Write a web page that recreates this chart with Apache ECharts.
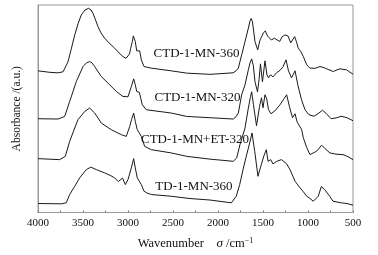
<!DOCTYPE html>
<html><head><meta charset="utf-8">
<script src="https://cdn.jsdelivr.net/npm/echarts@6/dist/echarts.min.js"></script>
<style>html,body{margin:0;padding:0;background:#fff}#c{width:378px;height:255px}</style>
</head><body><div id="c"></div>
<script>
const seriesNames = ['CTD-1-MN-360','CTD-1-MN-320','CTD-1-MN+ET-320','TD-1-MN-360'];
const ctd360 = [[4000,142],[3867,140.5],[3778,140],[3722,141],[3667,151],[3633,163],[3592,178],[3556,189],[3519,198],[3478,203],[3437,204.7],[3411,203],[3389,199.7],[3361,193],[3333,186.3],[3300,180],[3259,174.7],[3211,170],[3148,164.7],[3100,160],[3056,156.3],[3022,154.5],[3000,154],[2983,159],[2970,164.7],[2952,171.3],[2941,177],[2933,179],[2926,177],[2919,171.3],[2903,162],[2889,160],[2870,162],[2852,153],[2822,146.3],[2741,144.7],[2519,142],[2348,139.7],[2089,138.5],[1833,140],[1800,142],[1774,144.7],[1737,158],[1700,171.3],[1663,184.7],[1644,192],[1631,194.5],[1617,191],[1589,171.3],[1559,163],[1533,173],[1511,177],[1497,180],[1474,182],[1461,179],[1444,176.3],[1408,173],[1370,174.7],[1344,173],[1314,171.5],[1289,176],[1256,178],[1222,177],[1192,170],[1172,171],[1148,176.3],[1128,171],[1108,164.7],[1078,161],[1052,156.3],[1014,148],[978,144.7],[922,144.5],[867,146.3],[833,145.5],[792,144],[719,141.3],[678,143],[644,144],[570,143],[533,140.5],[500,138.7]];
const ctd320 = [[4000,94],[3778,93.7],[3703,96.3],[3648,111.3],[3574,131.3],[3500,146.3],[3461,150],[3426,151.3],[3400,150],[3370,146.3],[3297,136.3],[3222,129.7],[3130,121.3],[3056,116.3],[3000,116],[2963,126.3],[2937,134],[2919,128],[2903,121.3],[2889,119.7],[2874,120.5],[2859,114.7],[2841,108],[2797,103],[2519,99.7],[2348,96.3],[2089,95],[1830,93.7],[1800,96],[1774,99.7],[1737,118],[1700,128],[1663,143],[1644,150],[1626,154],[1607,147],[1589,131],[1561,121],[1544,133],[1528,149],[1506,131],[1478,152],[1456,138],[1439,135],[1417,138],[1389,136],[1350,140],[1311,142.5],[1278,146],[1244,153],[1217,142],[1183,135],[1144,142],[1111,127],[1072,113],[1033,103],[989,98],[933,96.5],[889,99],[839,102.5],[800,99.5],[744,94],[678,95],[633,96.5],[567,95],[500,92]];
const ctdEt320 = [[4000,54],[3759,53],[3697,56.3],[3648,71.3],[3592,84.7],[3556,93],[3481,101.3],[3426,104.7],[3370,99.7],[3297,89.7],[3186,83],[3074,78],[3019,76.3],[2981,86.3],[2961,93],[2937,99.7],[2919,91.3],[2897,83],[2878,84],[2852,76.3],[2815,66.3],[2741,63],[2519,59.7],[2348,56.3],[2089,53.5],[1830,51.3],[1792,54.7],[1756,68],[1700,84.7],[1663,104.7],[1639,116],[1626,121],[1606,108],[1572,87],[1539,106],[1517,115],[1500,105],[1478,118],[1459,114],[1439,103],[1411,99],[1367,102],[1311,108],[1274,113],[1237,118],[1206,106],[1172,95],[1144,99],[1122,91],[1070,83],[1052,75],[1014,65],[978,58],[903,61.5],[848,67.5],[811,64],[756,59.7],[689,58.5],[611,58],[556,56],[500,53]];
const td360 = [[4000,9],[3741,8.7],[3686,9.7],[3648,18],[3592,26.3],[3537,34.7],[3463,43],[3414,45.5],[3352,43],[3259,39.7],[3200,37.3],[3148,34.7],[3108,31],[3061,34.5],[3030,28],[3000,33],[2963,44.7],[2937,54],[2919,44.7],[2897,34.7],[2878,36.3],[2852,28],[2822,21.3],[2792,19.7],[2741,18],[2519,16.3],[2311,14],[2089,12.5],[1852,9.7],[1797,16.3],[1759,28],[1722,43],[1686,56.3],[1648,69.7],[1622,79.7],[1592,61.3],[1556,36.3],[1519,48],[1489,57],[1463,63],[1444,51.3],[1414,53],[1389,48.7],[1348,51.3],[1294,53],[1239,49],[1200,43],[1144,31.3],[1089,24.7],[1056,21.3],[1014,16.3],[978,14],[941,11.3],[886,16.3],[852,26],[833,24],[815,23],[800,24],[759,16.3],[722,11.3],[630,9.7],[567,9],[500,7.3]];
const labelAnchors = [[2239,159],[2228,115],[2256,73],[2267,26]];
const xTicks = [4000,3500,3000,2500,2000,1500,1000,500];

const FONT = "'Liberation Serif','Times New Roman',serif";
const dataSets = [ctd360, ctd320, ctdEt320, td360];
const chart = echarts.init(document.getElementById('c'), null, {renderer:'canvas'});
chart.setOption({
  animation:false,
  backgroundColor:'#fff',
  grid:{left:38,right:25,top:5,bottom:42,show:true,borderColor:'#999',borderWidth:1},
  xAxis:{type:'value',inverse:true,min:500,max:4000,interval:250,
    axisLine:{lineStyle:{color:'#999'}},
    axisTick:{inside:true,length:2,lineStyle:{color:'#777'}},
    splitLine:{show:false},
    axisLabel:{color:'#111',fontFamily:FONT,fontSize:11,margin:5,
      formatter:v=>xTicks.includes(v)?String(v):''},
    name:'Wavenumber    {i|σ} /cm{s|−1}',nameLocation:'middle',nameGap:24,
    nameTextStyle:{color:'#111',fontFamily:FONT,fontSize:12.5,
      rich:{i:{fontStyle:'italic',fontFamily:FONT,fontSize:13,color:'#111'},
            s:{fontFamily:FONT,fontSize:8,color:'#111',verticalAlign:'top',lineHeight:14}}}
  },
  yAxis:{type:'value',min:0,max:208,axisLine:{show:true,lineStyle:{color:'#999'}},axisTick:{show:false},axisLabel:{show:false},splitLine:{show:false},
    name:'Absorbance /(a.u.)',nameLocation:'middle',nameGap:15,
    nameTextStyle:{color:'#111',fontFamily:FONT,fontSize:11.5}},
  series: dataSets.map((d,i)=>({
    type:'line',name:seriesNames[i],data:d,showSymbol:false,symbol:'none',
    lineStyle:{color:'#1a1a1a',width:1},
    markPoint:{symbol:'circle',symbolSize:0,silent:true,
      label:{show:true,position:'inside',color:'#111',fontFamily:FONT,fontSize:13,formatter:seriesNames[i]},
      data:[{coord:labelAnchors[i]}]}
  }))
});
</script></body></html>
